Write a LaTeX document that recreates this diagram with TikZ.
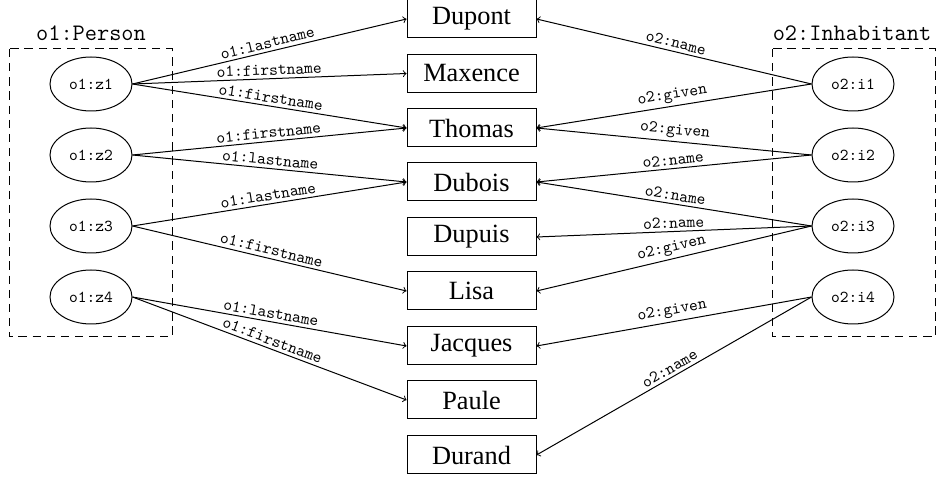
\documentclass[tikz,border=0pt]{standalone}
\usepackage{fontspec}
\setmainfont{Liberation Serif}
\usetikzlibrary{arrows, shapes.geometric}

\begin{document}
\begin{tikzpicture}[x=0.6pt, y=0.6pt, line width=0.6pt]
		\tikzset{res/.style={draw, rectangle, minimum width=77.4pt, minimum height=22.8pt, inner sep=0, font=\fontsize{15.8}{18}\selectfont}}
		\tikzset{subj/.style={draw, ellipse, minimum width=49.2pt, minimum height=32.4pt, inner sep=0, font=\fontsize{10}{12}\selectfont\ttfamily}}
		\tikzset{grp/.style={draw, dash pattern=on 5pt off 3.5pt}}
		\tikzset{ttl/.style={font=\fontsize{14.2}{16}\selectfont\ttfamily}}
		\tikzset{ar/.style={->}}
		\tikzset{lbl/.style={sloped, above, midway, inner sep=1.8pt, font=\fontsize{10}{12}\selectfont\ttfamily}}
		\useasboundingbox (0,0) rectangle (936,-477);
		% groups
		\draw[grp] (9,-49) rectangle (172,-337);
		\draw[grp] (772,-49) rectangle (935,-337);
		\node[ttl] at (91,-33) (p) {o1:Person};
		\node[ttl] at (852,-33) (h) {o2:Inhabitant};
		% subjects
		\node[subj] at (91,-84) (z1) {o1:z1};
		\node[subj] at (91,-155) (z2) {o1:z2};
		\node[subj] at (91,-226) (z3) {o1:z3};
		\node[subj] at (91,-297) (z4) {o1:z4};
		\node[subj] at (853,-84) (i1) {o2:i1};
		\node[subj] at (853,-155) (i2) {o2:i2};
		\node[subj] at (853,-226) (i3) {o2:i3};
		\node[subj] at (853,-297) (i4) {o2:i4};
		% values
		\node[res] at (471.5,-19) (dupont) {Dupont};
		\node[res] at (471.5,-73.5) (maxence) {Maxence};
		\node[res] at (471.5,-128) (thomas) {Thomas};
		\node[res] at (471.5,-182) (dubois) {Dubois};
		\node[res] at (471.5,-237) (dupuis) {Dupuis};
		\node[res] at (471.5,-291) (lisa) {Lisa};
		\node[res] at (471.5,-346) (jacques) {Jacques};
		\node[res] at (471.5,-400) (paule) {Paule};
		\node[res] at (471.5,-455) (durand) {Durand};
		% o1 edges
		\path[ar] (z1.east) edge node[lbl] {o1:lastname} (dupont.west);
		\path[ar] (z1.east) edge node[lbl] {o1:firstname} (maxence.west);
		\path[ar] (z1.east) edge node[lbl] {o1:firstname} (thomas.west);
		\path[ar] (z2.east) edge node[lbl] {o1:firstname} (thomas.west);
		\path[ar] (z2.east) edge node[lbl] {o1:lastname} (dubois.west);
		\path[ar] (z3.east) edge node[lbl] {o1:lastname} (dubois.west);
		\path[ar] (z3.east) edge node[lbl] {o1:firstname} (lisa.west);
		\path[ar] (z4.east) edge node[lbl] {o1:lastname} (jacques.west);
		\path[ar] (z4.east) edge node[lbl] {o1:firstname} (paule.west);
		% o2 edges
		\path[ar] (i1.west) edge node[lbl] {o2:name} (dupont.east);
		\path[ar] (i1.west) edge node[lbl] {o2:given} (thomas.east);
		\path[ar] (i2.west) edge node[lbl] {o2:given} (thomas.east);
		\path[ar] (i2.west) edge node[lbl] {o2:name} (dubois.east);
		\path[ar] (i3.west) edge node[lbl] {o2:name} (dubois.east);
		\path[ar] (i3.west) edge node[lbl] {o2:name} (dupuis.east);
		\path[ar] (i3.west) edge node[lbl] {o2:given} (lisa.east);
		\path[ar] (i4.west) edge node[lbl] {o2:given} (jacques.east);
		\path[ar] (i4.west) edge node[lbl] {o2:name} (durand.east);
	\end{tikzpicture}
\end{document}
